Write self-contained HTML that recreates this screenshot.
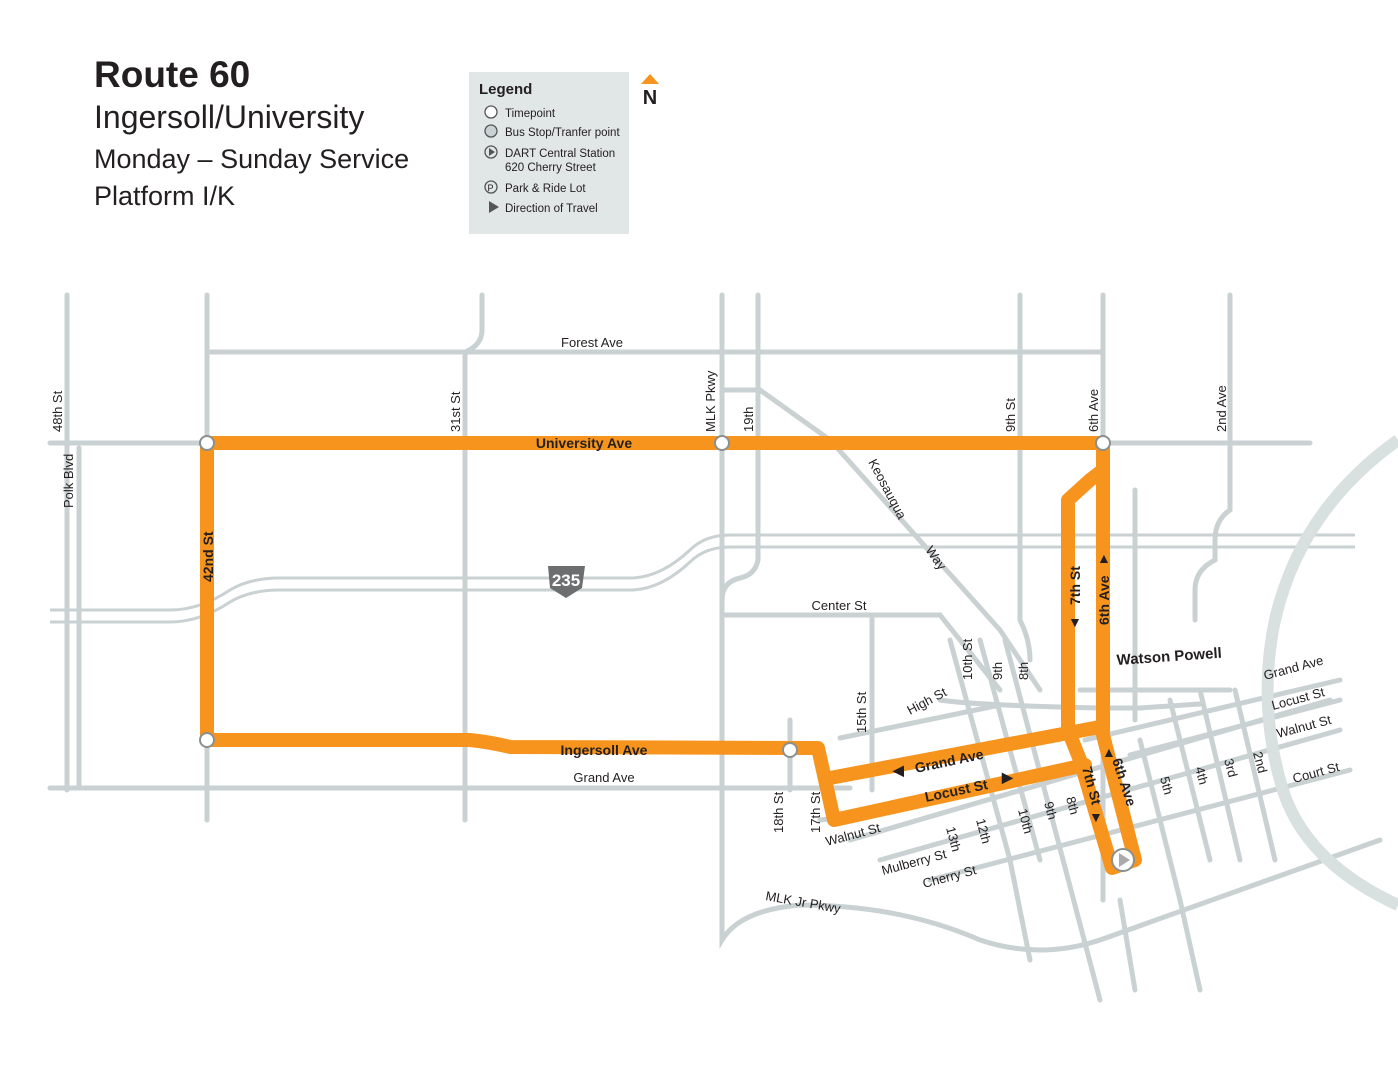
<!DOCTYPE html>
<html><head><meta charset="utf-8"><style>
body{margin:0;background:#fff;width:1398px;height:1080px;overflow:hidden;font-family:"Liberation Sans",sans-serif}
svg{position:absolute;left:0;top:0}
</style></head><body>
<svg width="1398" height="1080" viewBox="0 0 1398 1080" font-family="Liberation Sans, sans-serif">
<g fill="none" stroke="#c9d1d3" stroke-width="5" stroke-linecap="round">
<path d="M207 352H1103"/>
<path d="M50 443H1310"/>
<path d="M50 788H722 L850 788"/>
<path d="M67 295V790"/><path d="M79 448V788"/><path d="M207 295V820"/>
<path d="M482 295V330 Q482 345 465 352 V820"/>
<path d="M722 295V940 Q740 910 800 905 Q900 905 980 940 Q1040 960 1100 940 L1380 840"/>
<path d="M758 295V560 Q755 575 740 578 Q722 582 722 600"/>
<path d="M722 390H760L830 440L1000 630L1040 690"/>
<path d="M722 615H940L1000 690"/>
<path d="M1020 295V620 Q1030 640 1030 660"/>
<path d="M1103 295V900"/>
<path d="M1230 295V510 Q1215 520 1215 540 V560 Q1195 570 1195 590 V620"/>
<path d="M1135 490V720"/>
<path d="M872 615V790"/>
<path d="M790 720V790"/>
<path d="M950 640L1010 860 L1030 960"/>
<path d="M980 640L1040 860"/>
<path d="M1005 640L1100 1000"/>
<path d="M1170 700L1210 860"/>
<path d="M1200 690L1240 860"/>
<path d="M1235 690L1275 860"/>
<path d="M1140 740L1180 900 L1200 990"/>
<path d="M1120 900L1135 990"/>
<path d="M820 820L900 810"/>
<path d="M850 840L1330 700"/>
<path d="M880 860L1340 730"/>
<path d="M930 880L1350 770"/>
<path d="M940 700 Q970 705 1100 708 H1140 L1200 704"/>
<path d="M840 738L1000 705"/>
<path d="M1080 690H1230"/>
<path d="M1085 740L1340 680"/>
<path d="M1130 755L1340 700"/>
</g>
<g fill="none" stroke="#c9d1d3" stroke-width="3">
<path d="M50 610H170 Q200 610 230 590 Q250 578 280 578 H630 Q660 578 690 550 Q705 535 730 535 H1355"/>
<path d="M50 622H170 Q200 622 230 602 Q250 590 280 590 H630 Q660 590 690 562 Q705 547 730 547 H1355"/>
</g>
<path d="M1398 440 Q1300 510 1275 620 Q1258 700 1280 780 Q1300 860 1398 905" fill="none" stroke="#d8e0e0" stroke-width="12"/>
<g fill="none" stroke="#f7941d" stroke-width="14" stroke-linejoin="round" stroke-linecap="round">
<path d="M207 443H1103V735 L1135 860 L1112 868 L1080 760 L1068 730 V500 L1090 480 L1103 470"/>
<path d="M207 443V740H470 Q490 742 510 747 L818 748 L834 820 L1085 765"/>
<path d="M830 778L1100 727"/>
</g>
<g fill="#fff" stroke="#8a8f90" stroke-width="2">
<circle cx="207" cy="443" r="7"/><circle cx="722" cy="443" r="7"/><circle cx="1103" cy="443" r="7"/><circle cx="207" cy="740" r="7"/><circle cx="790" cy="750" r="7"/>
<circle cx="1123" cy="860" r="11"/>
</g>
<path d="M1119 853L1130 860L1119 867Z" fill="#aaa"/>
<path d="M548 566H585L582 588L566 598L550 588Z" fill="#6d6e70"/>
<text x="566" y="586" font-size="17" font-weight="bold" fill="#fff" text-anchor="middle">235</text>
<g font-size="13" fill="#231f20">
<text x="592" y="347" text-anchor="middle">Forest Ave</text>
<text x="604" y="782" text-anchor="middle">Grand Ave</text>
<text x="839" y="610" text-anchor="middle">Center St</text>
<text transform="translate(62,432) rotate(-90)">48th St</text>
<text transform="translate(73,508) rotate(-90)">Polk Blvd</text>
<text transform="translate(460,432) rotate(-90)">31st St</text>
<text transform="translate(715,432) rotate(-90)">MLK Pkwy</text>
<text transform="translate(753,432) rotate(-90)">19th</text>
<text transform="translate(1015,432) rotate(-90)">9th St</text>
<text transform="translate(1098,432) rotate(-90)">6th Ave</text>
<text transform="translate(1226,432) rotate(-90)">2nd Ave</text>
<text transform="translate(868,462) rotate(62)">Keosauqua</text>
<text transform="translate(925,550) rotate(55)">Way</text>
<text transform="translate(972,680) rotate(-90)">10th St</text>
<text transform="translate(1002,680) rotate(-90)">9th</text>
<text transform="translate(1028,680) rotate(-90)">8th</text>
<text transform="translate(866,733) rotate(-90)">15th St</text>
<text transform="translate(910,715) rotate(-28)">High St</text>
<text transform="translate(783,833) rotate(-90)">18th St</text>
<text transform="translate(820,833) rotate(-90)">17th St</text>
<text transform="translate(827,846) rotate(-15)">Walnut St</text>
<text transform="translate(883,875) rotate(-15)">Mulberry St</text>
<text transform="translate(924,888) rotate(-15)">Cherry St</text>
<text transform="translate(765,900) rotate(10)">MLK Jr Pkwy</text>
<text transform="translate(946,828) rotate(75)">13th</text>
<text transform="translate(976,820) rotate(75)">12th</text>
<text transform="translate(1018,810) rotate(75)">10th</text>
<text transform="translate(1044,803) rotate(75)">9th</text>
<text transform="translate(1066,798) rotate(75)">8th</text>
<text transform="translate(1160,778) rotate(75)">5th</text>
<text transform="translate(1195,768) rotate(75)">4th</text>
<text transform="translate(1224,760) rotate(75)">3rd</text>
<text transform="translate(1253,753) rotate(75)">2nd</text>
<text transform="translate(1265,680) rotate(-15)">Grand Ave</text>
<text transform="translate(1273,710) rotate(-15)">Locust St</text>
<text transform="translate(1278,738) rotate(-15)">Walnut St</text>
<text transform="translate(1294,783) rotate(-15)">Court St</text>
</g>
<g font-size="14" font-weight="bold" fill="#231f20">
<text x="584" y="448" text-anchor="middle">University Ave</text>
<text x="604" y="755" text-anchor="middle">Ingersoll Ave</text>
<text transform="translate(213,582) rotate(-90)">42nd St</text>
<text transform="translate(1080,605) rotate(-90)">7th St</text>
<text transform="translate(1109,625) rotate(-90)">6th Ave</text>
<text transform="translate(916,773) rotate(-12)">Grand Ave</text>
<text transform="translate(926,802) rotate(-12)">Locust St</text>
<text transform="translate(1082,768) rotate(75)">7th St</text>
<text transform="translate(1112,760) rotate(72)">6th Ave</text>
<text transform="translate(1117,665) rotate(-4)" font-size="15">Watson Powell</text>
</g>
<g font-size="14" font-weight="bold" fill="#231f20">
<text x="893" y="775">◀</text><text x="1002" y="782">▶</text>
<text x="1068" y="627">▼</text><text x="1097" y="563">▲</text>
<text x="1102" y="757">▲</text><text x="1089" y="822">▼</text>
</g>
<rect x="469" y="72" width="160" height="162" fill="#e1e6e6"/>
<text x="479" y="94" font-size="15" font-weight="bold" fill="#231f20">Legend</text>
<g font-size="11.5" fill="#231f20">
<circle cx="491" cy="112" r="6" fill="#fff" stroke="#555" stroke-width="1.3"/><text x="505" y="117">Timepoint</text>
<circle cx="491" cy="131" r="6" fill="#c9d1d3" stroke="#555" stroke-width="1.3"/><text x="505" y="136">Bus Stop/Tranfer point</text>
<circle cx="491" cy="152" r="6" fill="#e1e6e6" stroke="#555" stroke-width="1.3"/><path d="M489 148L495 152L489 156Z" fill="#555"/><text x="505" y="157">DART Central Station</text>
<text x="505" y="171">620 Cherry Street</text>
<circle cx="491" cy="187" r="6" fill="#e1e6e6" stroke="#555" stroke-width="1.3"/><text x="487.5" y="191" font-size="9">P</text><text x="505" y="192">Park &amp; Ride Lot</text>
<path d="M489 201L499 207L489 213Z" fill="#555"/><text x="505" y="212">Direction of Travel</text>
</g>
<path d="M641 84L650 74L659 84Z" fill="#f7941d"/>
<text x="650" y="104" font-size="20" font-weight="bold" text-anchor="middle" fill="#231f20">N</text>
<text x="94" y="87" font-size="37" font-weight="bold" fill="#231f20">Route 60</text>
<text x="94" y="128" font-size="32" fill="#231f20">Ingersoll/University</text>
<text x="94" y="168" font-size="27" fill="#231f20">Monday – Sunday Service</text>
<text x="94" y="205" font-size="27" fill="#231f20">Platform I/K</text>
</svg>
</body></html>
